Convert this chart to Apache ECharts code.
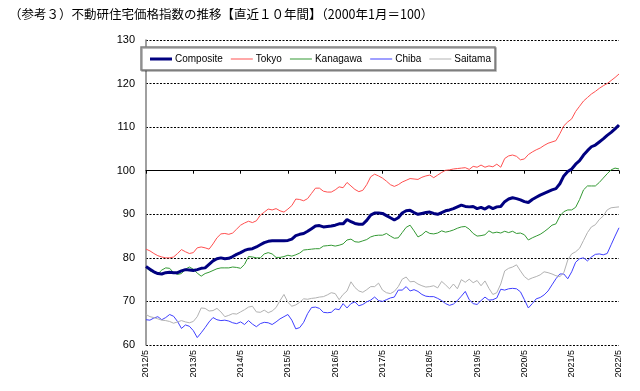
<!DOCTYPE html>
<html><head><meta charset="utf-8">
<script src="https://cdn.jsdelivr.net/npm/echarts@6/dist/echarts.min.js"></script>
<style>html,body{margin:0;padding:0;background:#fff}#c{width:640px;height:391px}</style>
</head><body><div id="c"></div>
<script>
const titleText = '（参考３）不動研住宅価格指数の推移【直近１０年間】（2000年1月＝100）';
const startYear = 2012, startMonth = 5, monthCount = 121;
const seriesNames = ['Composite', 'Tokyo', 'Kanagawa', 'Chiba', 'Saitama'];

const composite = [
78.0,77.4,76.8,76.4,76.3,76.6,76.7,76.6,76.6,77.0,77.3,77.2,
77.1,77.3,77.6,77.7,78.5,79.3,79.8,80.0,79.8,79.9,80.3,80.8,
81.2,81.7,82.0,82.1,82.5,83.0,83.5,83.8,83.9,83.9,83.9,83.9,
84.0,84.3,85.1,85.4,85.6,86.1,86.7,87.3,87.4,87.1,87.2,87.3,
87.5,87.8,87.8,88.8,88.3,87.9,87.7,87.7,88.6,89.8,90.3,90.3,
90.2,89.7,89.2,88.7,89.2,90.3,90.8,90.9,90.4,90.0,90.2,90.4,
90.5,90.2,90.0,90.4,90.8,91.0,91.3,91.7,92.1,91.8,91.7,91.8,
91.3,91.6,91.2,91.8,91.3,91.7,91.8,92.9,93.5,93.8,93.6,93.3,
92.9,92.7,93.4,93.9,94.4,94.8,95.2,95.6,95.9,97.0,98.8,99.8,
100.4,101.5,102.3,103.6,104.6,105.5,105.9,106.6,107.3,108.1,108.8,109.6,
110.5];
const tokyo = [
82.0,81.6,81.0,80.5,80.2,80.0,80.0,80.2,81.0,81.9,81.4,81.0,
81.2,82.3,82.5,82.3,82.0,83.2,84.6,85.5,85.6,85.4,85.7,86.6,
87.5,88.0,88.4,88.1,88.5,89.8,90.5,91.2,91.0,91.3,90.8,90.5,
91.2,92.0,93.5,93.4,93.1,93.6,94.8,96.0,96.0,95.3,95.1,95.1,
95.6,96.3,96.1,97.3,96.5,95.7,95.2,95.5,96.8,98.6,99.2,98.8,
98.3,97.6,96.8,96.4,96.8,97.4,97.8,98.2,98.1,98.0,98.5,98.8,
99.0,98.4,99.0,99.6,100.1,100.2,100.4,100.5,100.6,100.7,100.3,101.0,
100.8,101.3,100.8,101.1,100.9,101.5,100.8,102.8,103.4,103.6,103.3,102.5,
102.7,103.7,104.3,104.8,105.2,105.8,106.3,106.6,106.9,108.5,110.3,111.2,
111.9,113.6,114.8,116.0,116.8,117.6,118.2,118.9,119.5,120.0,120.7,121.4,
122.2];
const kanagawa = [
77.8,77.0,76.6,76.3,77.2,77.7,77.6,76.6,76.2,76.4,77.4,77.9,
77.4,76.5,75.8,76.4,76.7,77.1,77.5,77.7,77.7,77.7,77.9,77.8,
77.6,78.5,80.3,80.2,80.0,80.0,80.9,81.2,80.9,80.1,80.1,80.3,
80.6,80.4,80.7,81.1,81.8,81.9,82.0,82.1,82.1,82.7,82.8,82.9,
82.7,82.9,83.2,84.1,84.3,83.7,83.6,83.9,84.2,84.8,85.1,85.2,
85.2,85.6,85.0,84.5,84.6,85.8,87.0,87.5,86.2,84.8,85.3,86.1,
85.6,85.5,85.7,86.2,85.9,86.1,86.4,86.8,87.1,87.2,86.6,85.6,
85.0,85.1,85.3,86.2,85.7,85.9,85.7,86.1,85.8,86.1,85.6,85.7,
85.3,84.1,84.6,85.0,85.4,86.0,86.7,87.5,87.8,89.6,90.6,91.0,
91.0,91.6,93.4,95.6,96.5,96.5,96.5,97.3,98.3,99.3,100.2,100.6,
100.4];
const chiba = [
65.8,65.7,66.2,66.5,65.8,66.3,67.0,66.6,65.4,63.8,64.6,64.3,
63.3,61.7,62.8,64.0,65.3,66.3,65.8,65.6,65.7,65.5,65.1,64.9,
65.3,64.7,65.6,64.8,64.2,64.9,65.2,65.1,64.7,65.3,66.0,66.5,
67.0,65.7,63.7,64.0,65.2,67.2,68.6,68.7,68.4,67.5,67.4,67.5,
68.3,68.1,69.5,68.5,69.5,69.9,69.0,69.3,69.9,70.3,71.0,70.2,
70.0,70.4,70.8,71.0,72.6,72.6,73.4,72.4,72.7,72.3,71.6,71.2,
71.1,71.1,70.7,70.2,69.5,69.1,69.4,70.2,71.2,72.3,70.4,69.5,
69.3,70.2,71.0,70.3,70.4,70.8,72.8,72.6,72.9,73.0,72.9,72.2,
70.4,68.5,69.5,70.6,70.9,71.5,72.4,73.8,75.2,76.3,76.3,75.2,
76.8,79.0,79.8,80.0,79.3,80.2,80.8,80.9,80.7,81.0,83.0,85.0,
86.9];
const saitama = [
67.0,66.5,66.3,66.0,65.7,65.6,65.4,65.0,65.3,65.6,65.3,65.1,
65.4,66.5,68.5,68.4,67.8,67.9,68.4,67.6,66.5,66.8,67.2,67.1,
67.6,68.1,68.7,68.9,67.6,67.5,68.0,67.4,67.8,68.6,70.2,71.6,
69.8,68.9,69.2,69.8,70.6,70.5,70.7,70.8,71.0,71.1,71.5,72.0,
71.8,70.4,71.6,72.4,74.5,73.2,72.4,72.1,72.7,73.4,73.4,74.2,
72.6,72.0,71.8,72.3,73.4,75.1,75.6,74.5,74.6,74.0,73.6,73.3,
73.4,73.6,73.1,74.6,73.8,72.9,74.0,72.9,75.0,74.4,75.1,74.3,
74.8,73.6,74.7,73.0,71.6,72.0,74.0,77.0,77.6,77.9,78.4,77.0,
75.7,75.0,75.4,75.7,76.1,76.8,76.6,76.3,75.9,75.7,76.6,79.5,
80.9,81.4,82.2,84.0,85.8,87.1,87.6,88.8,89.6,91.0,91.5,91.6,
91.7];

const yMin = 60, yMax = 130, yStep = 10, axisCross = 100;

const categories = [];
for (let k = 0; k < monthCount; k++) {
  const m = startMonth - 1 + k;
  categories.push((startYear + Math.floor(m / 12)) + '/' + (m % 12 + 1));
}

const gridTop = 40, gridBottom = 46, chartH = 391;
const plotH = chartH - gridTop - gridBottom;
const crossOffset = -plotH * (axisCross - yMin) / (yMax - yMin);

const colors = ['#000080', '#FF5050', '#339933', '#3F3FFF', '#B2B2B2'];
const widths = [3, 1, 1, 1, 1];
const dataSets = [composite, tokyo, kanagawa, chiba, saitama];

const chart = echarts.init(document.getElementById('c'), null, {renderer: 'canvas'});
chart.setOption({
  animation: false,
  backgroundColor: '#fff',
  title: {
    text: titleText, left: 4, top: 3,
    textStyle: {fontFamily: '"Noto Sans CJK JP", sans-serif', fontSize: 12.5, fontWeight: 'normal', color: '#000'}
  },
  legend: {
    data: seriesNames.map((n, i) => ({
      name: n,
      icon: 'path://M0,0H22V' + widths[i] + 'H0Z'
    })),
    left: 141, top: 47, itemWidth: 22, itemHeight: 8, itemGap: 8,
    symbolKeepAspect: true,
    padding: [7, 4, 6, 9],
    backgroundColor: '#fff', borderColor: '#808080', borderWidth: 1.5,
    shadowColor: 'rgba(0,0,0,0.35)', shadowOffsetX: 1, shadowOffsetY: 1, shadowBlur: 0,
    textStyle: {fontFamily: 'Liberation Sans, Arial, sans-serif', fontSize: 10, color: '#000', padding: [0, 0, 0, -2]}
  },
  grid: {left: 146, right: 21, top: gridTop, bottom: gridBottom},
  xAxis: [{
    type: 'category', data: categories, boundaryGap: false, position: 'bottom',
    axisLine: {show: false}, axisTick: {show: false},
    axisLabel: {interval: 11, rotate: 90, fontSize: 9, color: '#000', margin: 5,
      fontFamily: 'Liberation Sans, Arial, sans-serif'},
    splitLine: {show: false}
  }, {
    type: 'category', data: categories, boundaryGap: false, position: 'bottom', offset: crossOffset,
    axisLine: {show: true, lineStyle: {color: '#000', width: 1}},
    axisTick: {show: true, interval: 11, length: 3, inside: false, lineStyle: {color: '#000'}},
    axisLabel: {show: false}, splitLine: {show: false}
  }],
  yAxis: {
    type: 'value', min: yMin, max: yMax, interval: yStep,
    axisLine: {show: true, lineStyle: {color: '#808080', width: 1.5}},
    axisTick: {show: false},
    axisLabel: {fontSize: 11, color: '#000', margin: 11, fontFamily: 'Liberation Sans, Arial, sans-serif'},
    splitLine: {show: true, lineStyle: {color: '#000', width: 1, type: [2, 1.5]}}
  },
  series: seriesNames.map((n, i) => ({
    name: n, type: 'line', data: dataSets[i], symbol: 'none', xAxisIndex: 0,
    z: i === 0 ? 3 : 2,
    lineStyle: {color: colors[i], width: widths[i]}, itemStyle: {color: colors[i]}
  }))
});
</script></body></html>
